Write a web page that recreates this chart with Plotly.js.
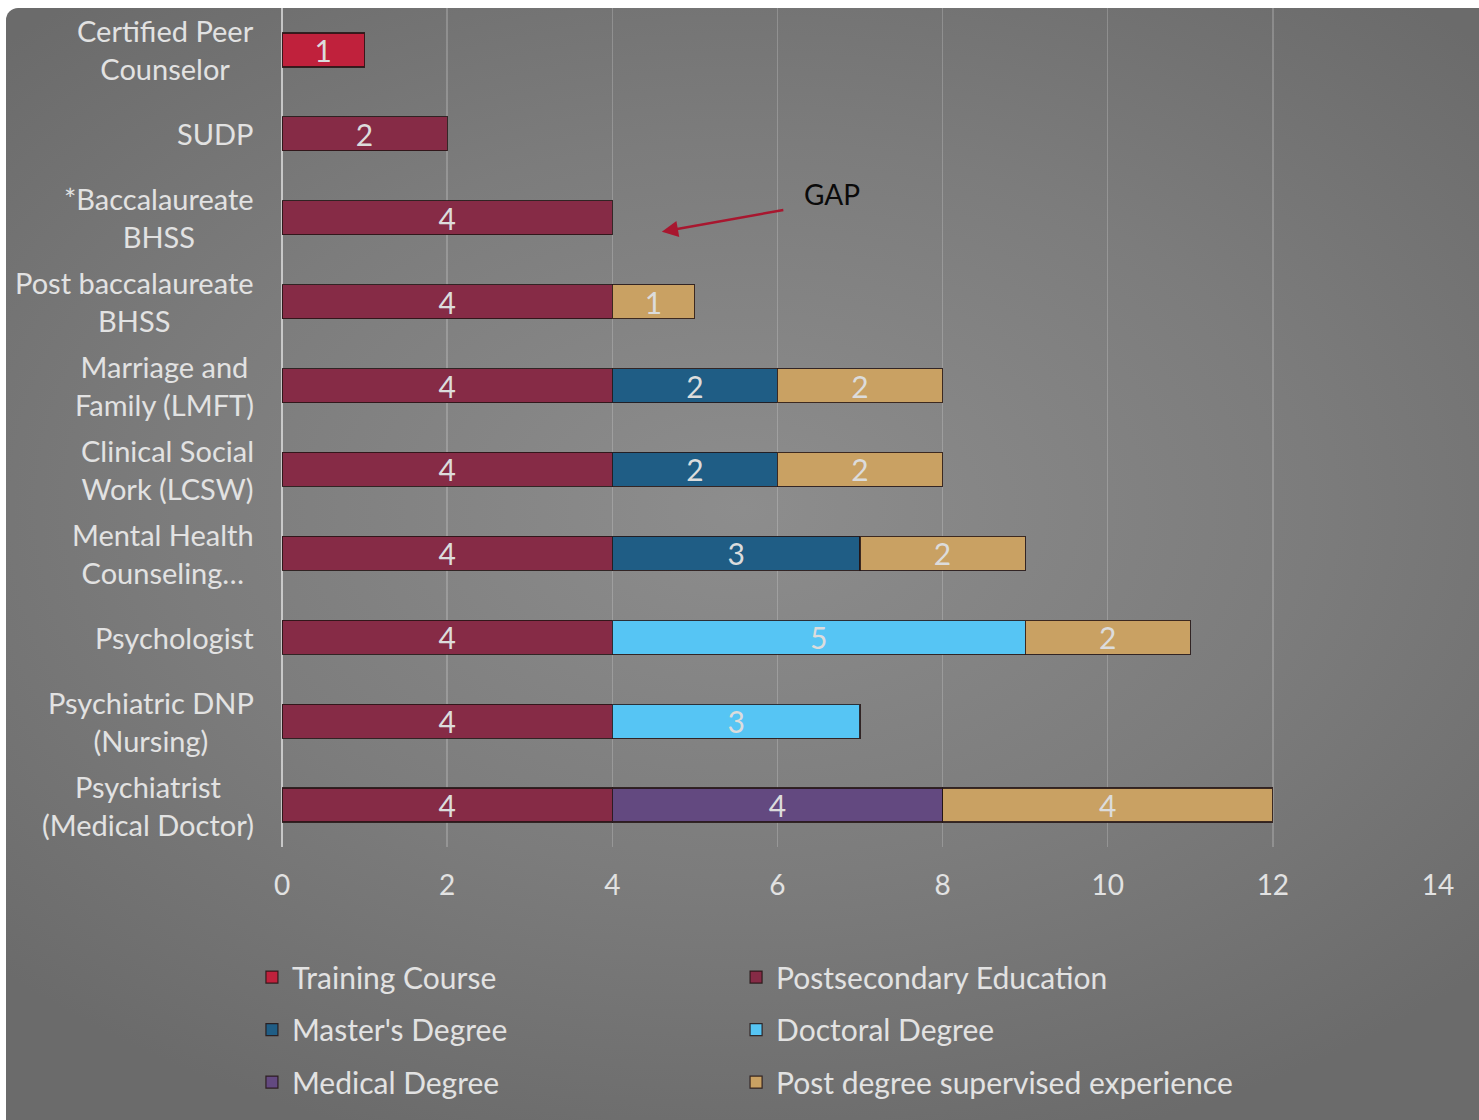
<!DOCTYPE html>
<html>
<head>
<meta charset="utf-8">
<script src="https://cdn.plot.ly/plotly-3.0.1.min.js"></script>
<style>
  html, body { margin: 0; padding: 0; background: #ffffff; width: 1479px; height: 1120px; overflow: hidden; }
  #card {
    position: absolute; left: 6px; top: 8px; width: 1473px; height: 1112px;
    border-radius: 12px 0 0 0;
    background: radial-gradient(ellipse 70% 60% at 50% 45%, #8d8d8d 0%, #7c7c7c 55%, #6b6b6b 100%);
  }
  #chart { width: 1473px; height: 1112px; }
</style>
</head>
<body>
<div id="card"><div id="chart"></div></div>
<script>
// ---- data ----
const categories = [
  "Certified Peer<br>Counselor",
  "SUDP",
  "*Baccalaureate<br>BHSS",
  "Post baccalaureate<br>BHSS",
  "Marriage and<br>Family (LMFT)",
  "Clinical Social<br>Work (LCSW)",
  "Mental Health<br>Counseling…",
  "Psychologist",
  "Psychiatric DNP<br>(Nursing)",
  "Psychiatrist<br>(Medical Doctor)"
];
const trainingCourse         = [1, null, null, null, null, null, null, null, null, null];
const postsecondaryEducation = [null, 2, 4, 4, 4, 4, 4, 4, 4, 4];
const mastersDegree          = [null, null, null, null, 2, 2, 3, null, null, null];
const doctoralDegree         = [null, null, null, null, null, null, null, 5, 3, null];
const medicalDegree          = [null, null, null, null, null, null, null, null, null, 4];
const postDegreeSupervised   = [null, null, null, 1, 2, 2, 2, 2, null, 4];
const xTicks = [0, 2, 4, 6, 8, 10, 12, 14];

const FONT = "Lato, 'Gill Sans', 'Open Sans', sans-serif";
const TXT = "#e2e2e2";

function barTrace(name, values, color, legend) {
  return {
    type: "bar", orientation: "h", name: name,
    y: categories, x: values,
    marker: { color: color, line: { color: "rgba(35,20,20,0.85)", width: 1.2 } },
    texttemplate: "%{x}", textposition: "inside", insidetextanchor: "middle",
    textangle: 0, constraintext: "none",
    insidetextfont: { family: FONT, size: 30, color: "#dcdcdc" },
    legend: legend, legendgroup: name,
    hoverinfo: "x+name"
  };
}

const data = [
  barTrace("Training Course", trainingCourse, "#c0213c", "legend"),
  barTrace("Postsecondary Education", postsecondaryEducation, "#862b46", "legend2"),
  barTrace("Master's Degree", mastersDegree, "#1f5d85", "legend"),
  barTrace("Doctoral Degree", doctoralDegree, "#56c5f4", "legend2"),
  barTrace("Medical Degree", medicalDegree, "#634980", "legend"),
  barTrace("Post degree supervised experience", postDegreeSupervised, "#c9a163", "legend2")
];

const catAnnotations = categories.map(c => ({
  xref: "paper", yref: "y", x: -0.0225, y: c,
  xanchor: "right", yanchor: "middle", align: "center",
  text: c, showarrow: false,
  font: { family: FONT, size: 29, color: TXT }
}));

const legendCommon = {
  orientation: "v", traceorder: "grouped",
  xref: "paper", yref: "paper",
  xanchor: "left", yanchor: "top", bgcolor: "rgba(0,0,0,0)",
  font: { family: FONT, size: 30, color: TXT },
  itemwidth: 30, tracegroupgap: 10.5
};

const layout = {
  width: 1473, height: 1112,
  paper_bgcolor: "rgba(0,0,0,0)", plot_bgcolor: "rgba(0,0,0,0)",
  margin: { l: 276, r: 41, t: 0, b: 273, autoexpand: false },
  barmode: "stack", bargap: 0.595,
  font: { family: FONT, size: 28, color: TXT },
  xaxis: {
    range: [0, 14], tickvals: xTicks, ticktext: xTicks.map(String),
    showgrid: true, gridcolor: "rgba(255,255,255,0.2)", gridwidth: 1.5,
    zeroline: true, zerolinecolor: "rgba(225,225,225,0.75)", zerolinewidth: 2,
    showline: false, ticks: "outside", ticklen: 13, tickcolor: "rgba(0,0,0,0)",
    tickfont: { family: FONT, size: 28, color: TXT }, fixedrange: true
  },
  yaxis: {
    type: "category", autorange: "reversed", showticklabels: false,
    showgrid: false, zeroline: false, showline: false, fixedrange: true
  },
  showlegend: true,
  legend: Object.assign({}, legendCommon, { x: -0.026, y: -0.124 }),
  legend2: Object.assign({}, legendCommon, { x: 0.3928, y: -0.124 }),
  annotations: catAnnotations.concat([
    {
      xref: "x", yref: "y", x: 4.6, y: categories[2], yshift: -14,
      ax: 123, ay: -22,
      showarrow: true, arrowhead: 2, arrowsize: 1.3, arrowwidth: 2.5, arrowcolor: "#a8172f",
      text: ""
    },
    {
      xref: "x", yref: "y", x: 6.66, y: categories[2], yshift: 24,
      text: "GAP", showarrow: false,
      font: { family: FONT, size: 28, color: "#0a0a0a" }
    }
  ])
};

Plotly.newPlot("chart", data, layout, { displayModeBar: false, staticPlot: true });
</script>
</body>
</html>
